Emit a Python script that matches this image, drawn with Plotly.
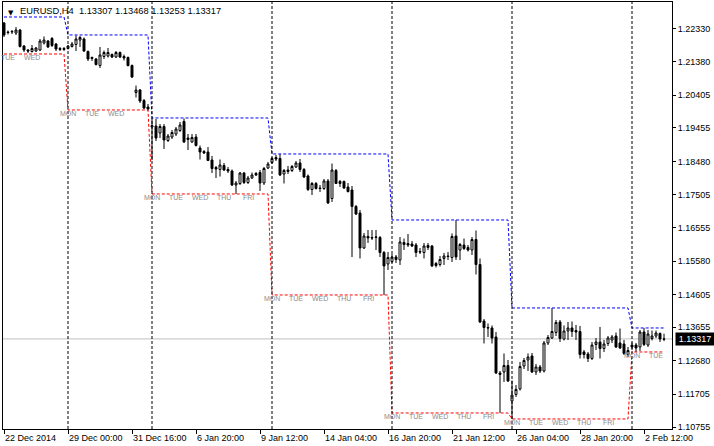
import plotly.graph_objects as go

# ---------------- data (EURUSD, H4) ----------------
bar_index = list(range(166))

opens = [
    1.22504, 1.22242, 1.22242, 1.22213, 1.22301, 1.21835, 1.21719, 1.21675, 1.21690, 1.21719,
    1.21923, 1.21981, 1.22053, 1.21893, 1.21763, 1.21734, 1.21763, 1.21821, 1.21879, 1.22010,
    1.22039, 1.21675, 1.21501, 1.21457, 1.21268, 1.21530, 1.21545, 1.21588, 1.21515, 1.21646,
    1.21530, 1.21501, 1.21268, 1.20483, 1.20556, 1.20250, 1.20061, 1.19480, 1.19509, 1.19305,
    1.19494, 1.19087, 1.19189, 1.19276, 1.19378, 1.19640, 1.19160, 1.19044, 1.19189, 1.18869,
    1.18767, 1.18753, 1.18520, 1.18302, 1.18244, 1.18360, 1.18244, 1.18200, 1.17793, 1.17837,
    1.18142, 1.17866, 1.17997, 1.18128, 1.18157, 1.17851, 1.18288, 1.18447, 1.18593, 1.18564,
    1.18113, 1.18229, 1.18215, 1.18317, 1.18433, 1.18244, 1.18055, 1.17662, 1.17837, 1.17706,
    1.17691, 1.17910, 1.17401, 1.18215, 1.17895, 1.17895, 1.17735, 1.17648, 1.17168, 1.16979,
    1.15961, 1.16296, 1.16267, 1.16267, 1.16267, 1.15830, 1.15496, 1.15569, 1.15699, 1.15612,
    1.16121, 1.16092, 1.16077, 1.16048, 1.15859, 1.15830, 1.16034, 1.16019, 1.15510, 1.15481,
    1.15656, 1.15729, 1.15685, 1.16310, 1.15903, 1.16048, 1.15976, 1.15903, 1.16208, 1.15481,
    1.13838, 1.13649, 1.13635, 1.13373, 1.12326, 1.12355, 1.12544, 1.11512, 1.11701, 1.11861,
    1.12530, 1.12704, 1.12821, 1.12355, 1.12501, 1.12384, 1.13199, 1.13344, 1.13504, 1.13809,
    1.13315, 1.13548, 1.13635, 1.13562, 1.13533, 1.12937, 1.12879, 1.12748, 1.13155, 1.13228,
    1.13039, 1.13184, 1.13286, 1.13402, 1.13199, 1.13169, 1.12864, 1.13140, 1.13140, 1.13082,
    1.13518, 1.13140, 1.13329, 1.13402, 1.13475, 1.13307,
]

highs = [
    1.22533, 1.22286, 1.22301, 1.22388, 1.22330, 1.21864, 1.21748, 1.21864, 1.21806, 1.22039,
    1.22112, 1.22010, 1.22097, 1.21923, 1.21806, 1.21806, 1.21864, 1.21952, 1.22141, 1.22126,
    1.22083, 1.21704, 1.21530, 1.21486, 1.21806, 1.21704, 1.21777, 1.21617, 1.21690, 1.21675,
    1.21588, 1.21530, 1.21297, 1.20687, 1.20585, 1.20294, 1.20149, 1.19742, 1.19712, 1.19567,
    1.19567, 1.19276, 1.19393, 1.19480, 1.19625, 1.19727, 1.19276, 1.19276, 1.19276, 1.18942,
    1.18811, 1.18898, 1.18637, 1.18346, 1.18535, 1.18433, 1.18317, 1.18244, 1.17910, 1.18171,
    1.18171, 1.18055, 1.18157, 1.18171, 1.18229, 1.18317, 1.18462, 1.18607, 1.18666, 1.18695,
    1.18258, 1.18346, 1.18375, 1.18491, 1.18549, 1.18288, 1.18099, 1.17880, 1.17880, 1.17793,
    1.17968, 1.17968, 1.18418, 1.18258, 1.17939, 1.17924, 1.17851, 1.17764, 1.17212, 1.17066,
    1.16397, 1.16485, 1.16485, 1.16485, 1.16310, 1.15874, 1.15845, 1.15787, 1.15758, 1.16281,
    1.16237, 1.16368, 1.16165, 1.16107, 1.15961, 1.16107, 1.16107, 1.16048, 1.15554, 1.15729,
    1.15816, 1.15845, 1.16383, 1.16776, 1.16107, 1.16237, 1.16048, 1.16281, 1.16470, 1.15656,
    1.13897, 1.13766, 1.13708, 1.13518, 1.12384, 1.12893, 1.12704, 1.12108, 1.11977, 1.12646,
    1.12762, 1.12893, 1.12908, 1.12588, 1.12559, 1.13257, 1.13431, 1.14217, 1.13867, 1.13867,
    1.13708, 1.13809, 1.13824, 1.13722, 1.13693, 1.12995, 1.12937, 1.13228, 1.13344, 1.13664,
    1.13286, 1.13402, 1.13431, 1.13504, 1.13620, 1.13286, 1.13082, 1.13213, 1.13199, 1.13577,
    1.13635, 1.13577, 1.13562, 1.13562, 1.13504, 1.13468,
]

lows = [
    1.22097, 1.22170, 1.22184, 1.22155, 1.21792, 1.21661, 1.21632, 1.21646, 1.21661, 1.21690,
    1.21879, 1.21777, 1.21806, 1.21690, 1.21690, 1.21690, 1.21734, 1.21792, 1.21690, 1.21806,
    1.21661, 1.21399, 1.21399, 1.21268, 1.21196, 1.21457, 1.21501, 1.21486, 1.21486, 1.21486,
    1.21414, 1.21239, 1.20905, 1.20338, 1.20178, 1.20003, 1.19960, 1.18520, 1.19073, 1.19160,
    1.18840, 1.19044, 1.19131, 1.19218, 1.19334, 1.19015, 1.18811, 1.19015, 1.18913, 1.18535,
    1.18695, 1.18491, 1.18142, 1.17997, 1.18040, 1.18200, 1.18142, 1.17764, 1.17531, 1.17793,
    1.17822, 1.17822, 1.17968, 1.18055, 1.17619, 1.17793, 1.18258, 1.18404, 1.18491, 1.18055,
    1.17837, 1.18113, 1.18171, 1.18288, 1.18171, 1.17997, 1.17619, 1.17502, 1.17662, 1.17590,
    1.17648, 1.17241, 1.17299, 1.17822, 1.17735, 1.17677, 1.17575, 1.15699, 1.16921, 1.15656,
    1.15932, 1.16107, 1.16194, 1.15903, 1.15699, 1.14594, 1.15321, 1.15525, 1.15525, 1.15467,
    1.15903, 1.15990, 1.15990, 1.15699, 1.15787, 1.15656, 1.15903, 1.15409, 1.15394, 1.15423,
    1.15467, 1.15612, 1.15554, 1.15612, 1.15612, 1.15903, 1.15859, 1.15758, 1.15191, 1.13780,
    1.13184, 1.13373, 1.13184, 1.12297, 1.11163, 1.12064, 1.12064, 1.10989, 1.11628, 1.11817,
    1.12442, 1.12384, 1.12326, 1.12268, 1.12326, 1.12341, 1.13140, 1.13315, 1.13402, 1.13228,
    1.13271, 1.13286, 1.13373, 1.13286, 1.12748, 1.12748, 1.12646, 1.12704, 1.12995, 1.12748,
    1.12937, 1.13111, 1.13199, 1.13053, 1.13024, 1.12850, 1.12791, 1.12995, 1.12937, 1.12966,
    1.13111, 1.13082, 1.13271, 1.13344, 1.13228, 1.13253,
]

closes = [
    1.22155, 1.22228, 1.22257, 1.22301, 1.21821, 1.21719, 1.21690, 1.21763, 1.21777, 1.21981,
    1.22010, 1.21806, 1.21850, 1.21748, 1.21734, 1.21763, 1.21835, 1.21893, 1.22039, 1.22083,
    1.21690, 1.21457, 1.21472, 1.21297, 1.21574, 1.21646, 1.21646, 1.21515, 1.21646, 1.21515,
    1.21486, 1.21268, 1.20934, 1.20556, 1.20236, 1.20032, 1.20003, 1.19523, 1.19160, 1.19494,
    1.19102, 1.19218, 1.19320, 1.19422, 1.19538, 1.19044, 1.19116, 1.19175, 1.18942, 1.18753,
    1.18724, 1.18506, 1.18273, 1.18258, 1.18375, 1.18229, 1.18200, 1.17793, 1.17851, 1.18142,
    1.17866, 1.17997, 1.18084, 1.18084, 1.17851, 1.18273, 1.18404, 1.18564, 1.18549, 1.18084,
    1.18215, 1.18186, 1.18331, 1.18433, 1.18244, 1.18026, 1.17662, 1.17837, 1.17691, 1.17691,
    1.17910, 1.17270, 1.18229, 1.17837, 1.17837, 1.17706, 1.17604, 1.17168, 1.16950, 1.15961,
    1.16310, 1.16252, 1.16252, 1.16281, 1.15830, 1.15438, 1.15685, 1.15699, 1.15627, 1.16136,
    1.16063, 1.16048, 1.16019, 1.15830, 1.15845, 1.16019, 1.15976, 1.15438, 1.15452, 1.15627,
    1.15729, 1.15714, 1.16296, 1.15699, 1.16063, 1.15947, 1.15903, 1.16208, 1.15481, 1.13809,
    1.13649, 1.13635, 1.13344, 1.12326, 1.12283, 1.12544, 1.12094, 1.11686, 1.11846, 1.12515,
    1.12690, 1.12791, 1.12355, 1.12501, 1.12384, 1.13199, 1.13359, 1.13533, 1.13795, 1.13329,
    1.13548, 1.13635, 1.13533, 1.13518, 1.12864, 1.12864, 1.12748, 1.13140, 1.13228, 1.13039,
    1.13169, 1.13344, 1.13373, 1.13082, 1.13053, 1.12893, 1.12980, 1.13082, 1.13053, 1.13518,
    1.13155, 1.13460, 1.13402, 1.13489, 1.13315, 1.13317,
]

# weekly high / low levels (indicator) and the first bar of each week
week_start = [0, 16, 37, 67, 97, 127, 157]
week_high = [1.22679, 1.22156, 1.19742, 1.18695, 1.16776, 1.14217, 1.13635]
week_low = [1.21603, 1.19975, 1.17532, 1.14595, 1.11163, 1.10989, 1.12937]

# day-of-week labels (bar where the day starts)
day_bars = [1, 7,
            16, 22, 28,
            37, 43, 49, 55, 61,
            67, 73, 79, 85, 91,
            97, 103, 109, 115, 121,
            127, 133, 139, 145, 151,
            157, 163]
day_names = ["TUE", "WED",
             "MON", "TUE", "WED",
             "MON", "TUE", "WED", "THU", "FRI",
             "MON", "TUE", "WED", "THU", "FRI",
             "MON", "TUE", "WED", "THU", "FRI",
             "MON", "TUE", "WED", "THU", "FRI",
             "MON", "TUE"]

time_tick_bars = [0, 16, 32, 48, 64, 80, 96, 112, 128, 144, 160]
time_tick_text = ["22 Dec 2014", "29 Dec 00:00", "31 Dec 16:00", "6 Jan 20:00",
                  "9 Jan 12:00", "14 Jan 04:00", "16 Jan 20:00", "21 Jan 12:00",
                  "26 Jan 04:00", "28 Jan 20:00", "2 Feb 12:00"]

price_ticks = [1.22330, 1.21380, 1.20405, 1.19455, 1.18480, 1.17505, 1.16555,
               1.15580, 1.14605, 1.13655, 1.12680, 1.11705, 1.10755]

symbol = "EURUSD,H4"

# ---------------- figure ----------------
FONT = "Liberation Sans, Arial, sans-serif"


def week_of(i):
    w = 0
    for k, s in enumerate(week_start):
        if i >= s:
            w = k
    return w


hi_line = [week_high[week_of(i)] for i in bar_index]
lo_line = [week_low[week_of(i)] for i in bar_index]

fig = go.Figure()

fig.add_trace(go.Scatter(x=bar_index, y=hi_line, mode="lines",
                         line=dict(color="#0000ff", width=1, dash="3px,2px"),
                         hoverinfo="skip", showlegend=False))
fig.add_trace(go.Scatter(x=bar_index, y=lo_line, mode="lines",
                         line=dict(color="#ff0000", width=1, dash="3px,2px"),
                         hoverinfo="skip", showlegend=False))

fig.add_trace(go.Candlestick(
    x=bar_index, open=opens, high=highs, low=lows, close=closes,
    increasing=dict(line=dict(color="black", width=1), fillcolor="white"),
    decreasing=dict(line=dict(color="black", width=1), fillcolor="black"),
    whiskerwidth=0, showlegend=False))

# weekly separators
for s in week_start[1:]:
    fig.add_shape(type="line", x0=s, x1=s, xref="x", y0=0, y1=1, yref="paper",
                  line=dict(color="black", width=1, dash="3px,2px"), layer="above")

# current price line
fig.add_shape(type="line", xref="paper", x0=0, x1=1, y0=closes[-1], y1=closes[-1],
              yref="y", line=dict(color="#c0c0c0", width=1), layer="below")

# day labels
for b, name in zip(day_bars, day_names):
    fig.add_annotation(x=b, y=week_low[week_of(b)], text=name, showarrow=False,
                       xanchor="center", yanchor="top", yshift=2,
                       font=dict(family=FONT, size=7, color="#8c8c8c"))

# current price label
fig.add_annotation(xref="paper", x=1, y=closes[-1], yref="y", xanchor="left",
                   xshift=3, text=f"{closes[-1]:.5f}", showarrow=False,
                   bgcolor="black", borderpad=1, width=36,
                   font=dict(family=FONT, size=9, color="white"))

# title
fig.add_annotation(xref="paper", yref="paper", x=0, y=1, xanchor="left", yanchor="top",
                   xshift=3, yshift=-5, text="\u25BC", showarrow=False,
                   font=dict(family="DejaVu Sans", size=7, color="black"))
fig.add_annotation(xref="paper", yref="paper", x=0, y=1, xanchor="left", yanchor="top",
                   xshift=15, yshift=-2, showarrow=False,
                   text=f"{symbol}\u00a0\u00a0{opens[-1]:.5f} {highs[-1]:.5f} "
                        f"{lows[-1]:.5f} {closes[-1]:.5f}",
                   font=dict(family=FONT, size=9.3, color="black"))

fig.update_layout(
    width=714, height=446,
    margin=dict(l=3, r=42, t=2, b=17),
    paper_bgcolor="white", plot_bgcolor="white",
    showlegend=False,
    font=dict(family=FONT, size=9, color="black"),
    xaxis=dict(range=[-0.25, 167], showgrid=False, zeroline=False,
               showline=True, linecolor="black", linewidth=1, mirror=True,
               ticks="outside", ticklen=4, tickcolor="black",
               tickvals=time_tick_bars, ticktext=time_tick_text,
               ticklabelposition="outside right",
               tickfont=dict(family=FONT, size=9, color="black"),
               rangeslider=dict(visible=False), fixedrange=True),
    yaxis=dict(range=[1.10697, 1.23115], side="right", showgrid=False, zeroline=False,
               showline=True, linecolor="black", linewidth=1, mirror=True,
               ticks="outside", ticklen=3, tickcolor="black",
               tickvals=price_ticks, ticktext=[f"{p:.5f}" for p in price_ticks],
               tickfont=dict(family=FONT, size=9, color="black"), fixedrange=True),
    hovermode=False,
)

fig.write_html("out.html", config={"displayModeBar": False},
               post_script="document.body.style.margin='0px';"
                           "document.body.style.overflow='hidden';")
